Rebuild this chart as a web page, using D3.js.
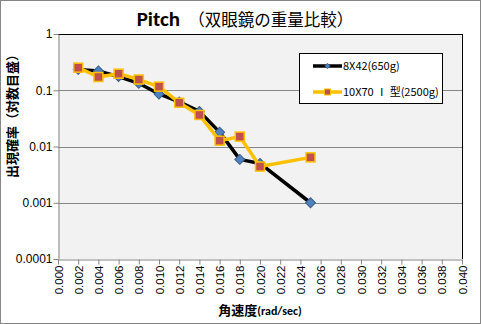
<!DOCTYPE html>
<html><head><meta charset="utf-8">
<script src="https://cdn.jsdelivr.net/npm/d3@7"></script>
<style>body{margin:0;background:#fff}svg{display:block}</style>
</head><body>
<svg id="c" width="481" height="324"></svg>
<script>
const xs1 = [0.002,0.004,0.006,0.008,0.010,0.012,0.014,0.016,0.018,0.020,0.025];
const ys1 = [0.235,0.22,0.175,0.133,0.086,0.062,0.042,0.018,0.0059,0.0050,0.001];
const xs2 = [0.002,0.004,0.006,0.008,0.010,0.012,0.014,0.016,0.018,0.020,0.025];
const ys2 = [0.252,0.172,0.197,0.155,0.116,0.060,0.0364,0.0127,0.015,0.0044,0.0064];
const seriesNames = ["8X42(650g)","10X70 Ⅰ 型(2500g)"];
const xTicks = d3.range(0,21).map(i=>i*0.002);
const yTicks = [1,0.1,0.01,0.001,0.0001];

const svg = d3.select("#c");
const L=58,R=462,T=34,B=259;
const x = d3.scaleLinear().domain([0,0.04]).range([L,R]);
const y = d3.scaleLog().domain([0.0001,1]).range([B,T]);

svg.append("rect").attr("x",0.5).attr("y",0.5).attr("width",480).attr("height",323).attr("fill","#fff").attr("stroke","#868686");
svg.append("rect").attr("x",L).attr("y",T).attr("width",R-L).attr("height",B-T).attr("fill","#f2f2f2");
svg.append("g").selectAll("line").data(yTicks.slice(1,4)).join("line")
  .attr("x1",L).attr("x2",R).attr("y1",d=>Math.round(y(d))+0.5).attr("y2",d=>Math.round(y(d))+0.5)
  .attr("stroke","#868686").attr("stroke-width",1);
svg.append("line").attr("x1",L).attr("x2",R+1).attr("y1",T+0.5).attr("y2",T+0.5).attr("stroke","#000").attr("stroke-width",1);
svg.append("line").attr("x1",R+0.5).attr("x2",R+0.5).attr("y1",T).attr("y2",B).attr("stroke","#000").attr("stroke-width",1);

const fontLat = "'Liberation Sans', Arial, sans-serif";
const fontJp = "'Noto Sans CJK JP', sans-serif";

const ya = svg.append("g").attr("transform",`translate(${L+0.5},0)`)
  .call(d3.axisLeft(y).tickValues(yTicks).tickFormat(d=>String(d)).tickSize(5).tickSizeOuter(0));
ya.select(".domain").attr("stroke","#868686");
ya.selectAll(".tick line").attr("stroke","#868686");
ya.selectAll("text").attr("font-family",fontLat).attr("font-size",12).attr("fill","#000").attr("x",-6);

const xa = svg.append("g").attr("transform",`translate(0,${B+0.5})`)
  .call(d3.axisBottom(x).tickValues(xTicks).tickFormat(d3.format(".3f")).tickSize(5).tickSizeOuter(0));
xa.select(".domain").attr("stroke","#868686");
xa.selectAll(".tick line").attr("stroke","#868686");
xa.selectAll("text").attr("font-family",fontLat).attr("font-size",11.5).attr("fill","#000")
  .attr("transform","rotate(-90)").attr("text-anchor","end").attr("x",-6).attr("y",0).attr("dy","0.35em");

const line = d3.line().x(d=>x(d[0])).y(d=>y(d[1]));
const d1 = xs1.map((v,i)=>[v,ys1[i]]);
const d2 = xs2.map((v,i)=>[v,ys2[i]]);
svg.append("path").datum(d1).attr("d",line).attr("fill","none").attr("stroke","#000").attr("stroke-width",3.5).attr("stroke-linejoin","round");
svg.append("g").selectAll("path").data(d1).join("path")
  .attr("d",d3.symbol(d3.symbolSquare, 50))
  .attr("transform",d=>`translate(${x(d[0])},${y(d[1])}) rotate(45)`)
  .attr("fill","#4f81bd").attr("stroke","#385d8a").attr("stroke-width",1);
svg.append("path").datum(d2).attr("d",line).attr("fill","none").attr("stroke","#ffc000").attr("stroke-width",3.5).attr("stroke-linejoin","round");
svg.append("g").selectAll("rect").data(d2).join("rect")
  .attr("x",d=>x(d[0])-4.5).attr("y",d=>y(d[1])-4.5).attr("width",9).attr("height",9)
  .attr("fill","#c0504d").attr("stroke","#ffc000").attr("stroke-width",1.5);

const lg = svg.append("g");
lg.append("rect").attr("x",299.5).attr("y",53.5).attr("width",143).attr("height",50).attr("fill","#fff").attr("stroke","#000");
lg.append("line").attr("x1",313).attr("x2",342).attr("y1",66).attr("y2",66).attr("stroke","#000").attr("stroke-width",3.5);
lg.append("path").attr("d",d3.symbol(d3.symbolSquare,14)).attr("transform","translate(327.5,66) rotate(45)").attr("fill","#4f81bd").attr("stroke","#385d8a").attr("stroke-width",0.8);
lg.append("line").attr("x1",313).attr("x2",342).attr("y1",92).attr("y2",92).attr("stroke","#ffc000").attr("stroke-width",3.5);
lg.append("rect").attr("x",324.5).attr("y",89).attr("width",6).attr("height",6).attr("fill","#c0504d").attr("stroke","#ffc000").attr("stroke-width",1);
lg.selectAll("text").data(seriesNames).join("text")
  .attr("x",343).attr("y",(d,i)=>i?96:70).attr("font-family",fontJp).attr("font-size",11).attr("fill","#000").text(d=>d);

const t = svg.append("text").attr("x",245).attr("y",26).attr("text-anchor","middle").attr("fill","#000");
t.append("tspan").attr("font-family","Carlito, Calibri, 'Liberation Sans', sans-serif").attr("font-weight","bold").attr("font-size",21).text("Pitch");
t.append("tspan").attr("font-family",fontJp).attr("font-size",16.5).text("　（双眼鏡の重量比較）");

svg.append("text").attr("transform","translate(17,113) rotate(-90)").attr("text-anchor","middle")
  .attr("font-family",fontJp).attr("font-weight","bold").attr("font-size",13).attr("fill","#000").text("出現確率（対数目盛）");
const xt = svg.append("text").attr("x",260).attr("y",315).attr("text-anchor","middle").attr("fill","#000").attr("font-weight","bold").attr("font-size",13);
xt.append("tspan").attr("font-family",fontJp).text("角速度");
xt.append("tspan").attr("font-family","Carlito, 'Liberation Sans', sans-serif").attr("font-size",12).text("(rad/sec)");
</script>
</body></html>
